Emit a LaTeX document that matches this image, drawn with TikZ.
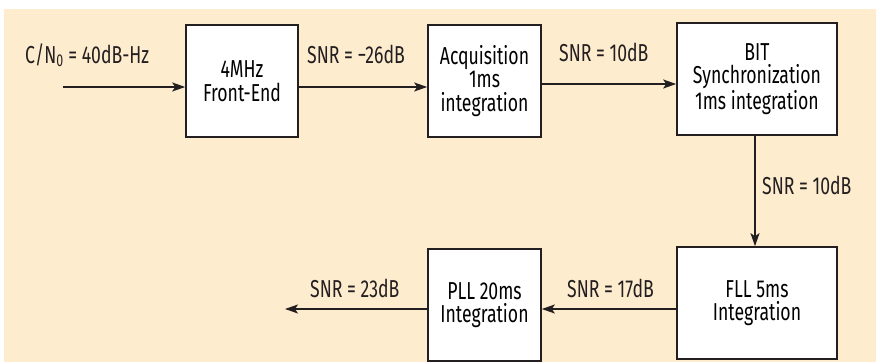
\documentclass[tikz,border=0pt]{standalone}
\usepackage{fontspec}
\setmainfont{Fira Sans}[FakeStretch=0.72]
\usepackage{tikz}
\usetikzlibrary{arrows.meta,positioning,backgrounds}
\definecolor{paper}{RGB}{254,236,207}
\definecolor{ink}{RGB}{35,31,32}
\tikzset{
  block/.style={draw=ink, fill=white, line width=1.6pt, align=center,
    minimum width=112pt, minimum height=112pt, inner sep=2pt},
  flow/.style={draw=ink, line width=1.5pt, -{Stealth[length=13pt,width=9pt,inset=3pt]}},
  snr/.style={anchor=base west, inner sep=0pt, text=ink}
}

\begin{document}
\begin{tikzpicture}[x=1pt,y=-1pt,font=\fontsize{24.5}{23.5}\selectfont]
\useasboundingbox (0,0) rectangle (876,362);
\fill[paper] (4,9) rectangle (876,362);

% blocks
\node[block] (frontend) at (242,81) {4MHz\\Front-End};
\node[block, minimum width=113pt] (acq) at (484.5,81) {Acquisition\\1ms\\integration};
\node[block, minimum width=160pt] (bitsync) at (757,79) {BIT\\Synchronization\\1ms integration};
\node[block, minimum width=160pt] (fll) at (757,303) {FLL 5ms\\Integration};
\node[block, minimum width=113pt] (pll) at (484.5,305) {PLL 20ms\\Integration};

% free ends
\coordinate (in) at (63,87);
\coordinate (out) at (285,309);

% connectors
\draw[flow] (in) -- (in -| frontend.west);
\draw[flow] (frontend.east |- in) -- (acq.west |- in);
\draw[flow] ([yshift=-3pt]acq.east) -- ([yshift=-3pt]acq.east -| bitsync.west);
\draw[flow] ([xshift=-2pt]bitsync.south) -- ([xshift=-2pt]fll.north);
\draw[flow] ([yshift=-6pt]fll.west) -- ([yshift=-6pt]fll.west -| pll.east);
\draw[flow] ([yshift=-4pt]pll.west) -- (out);

% labels
\node[snr] (cn0) at (25,63) {C/N\textsubscript{0} = 40dB-Hz};
\node[snr] (snr1) at (307,63) {SNR = −26dB};
\node[snr] (snr2) at (559,61) {SNR = 10dB};
\node[snr] (snr3) at (762,194) {SNR = 10dB};
\node[snr] (snr4) at (567,297) {SNR = 17dB};
\node[snr] (snr5) at (310,297) {SNR = 23dB};
\end{tikzpicture}
\end{document}
